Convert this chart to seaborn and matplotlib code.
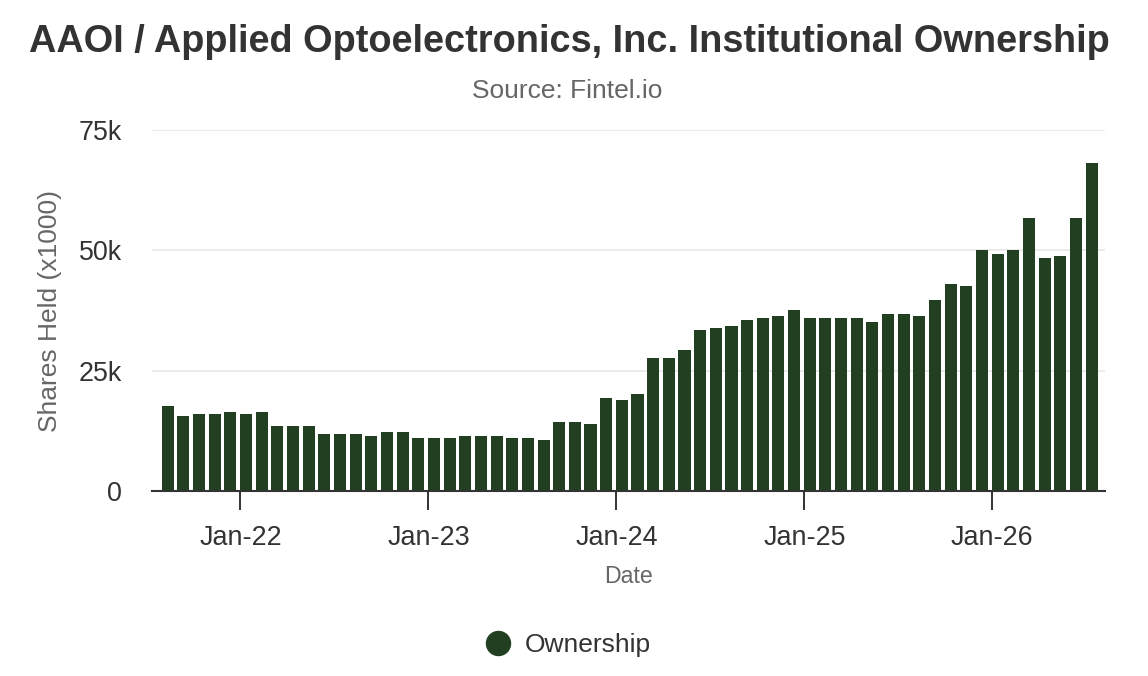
import matplotlib
matplotlib.use("Agg")
import matplotlib.pyplot as plt
from matplotlib.lines import Line2D
import seaborn as sns
import pandas as pd

# ---- data ----
months = pd.date_range("2021-08-01", "2026-07-01", freq="MS").strftime("%Y-%m").tolist()
shares = [
    17.6, 15.6, 16.0, 16.0, 16.4, 16.0, 16.4, 13.5, 13.5, 13.5,
    11.8, 11.8, 11.8, 11.4, 12.2, 12.2, 11.0, 11.0, 11.0, 11.4,
    11.4, 11.4, 11.0, 11.0, 10.6, 14.3, 14.3, 13.9, 19.3, 18.9,
    20.1, 27.6, 27.6, 29.3, 33.5, 33.9, 34.3, 35.6, 36.0, 36.4,
    37.6, 36.0, 36.0, 36.0, 36.0, 35.1, 36.8, 36.8, 36.4, 39.7,
    43.1, 42.6, 50.1, 49.3, 50.1, 56.8, 48.5, 48.9, 56.8, 68.1,
]
shares_k = [v * 1000 for v in shares]
tick_months = ["2022-01", "2023-01", "2024-01", "2025-01", "2026-01"]
tick_labels = ["Jan-22", "Jan-23", "Jan-24", "Jan-25", "Jan-26"]
y_ticks = [0, 25000, 50000, 75000]
y_tick_labels = ["0", "25k", "50k", "75k"]
series_name = "Ownership"

BAR = "#223f22"
DARK = "#333333"
GREY = "#666666"

sns.set_theme(style="white")
plt.rcParams["font.family"] = ["Liberation Sans", "DejaVu Sans"]

W, H = 1148, 676
fig = plt.figure(figsize=(W / 100, H / 100), dpi=100)
ax = fig.add_axes([152 / W, 1 - 491 / H, (1105 - 152) / W, 361 / H])

df = pd.DataFrame({"month": months, "shares": shares_k})
sns.barplot(data=df, x="month", y="shares", color=BAR, saturation=1,
            width=0.77, ax=ax, edgecolor="none")

ax.set_ylim(0, 75000)
ax.set_xlim(-1.0, len(months) - 0.15)
ax.set_yticks(y_ticks)
ax.set_yticklabels(y_tick_labels)
tick_pos = [months.index(m) - 0.35 for m in tick_months]
ax.set_xticks(tick_pos)
ax.set_xticklabels(tick_labels)

ax.yaxis.grid(True, color="#e6e6e6", lw=1.1)
ax.xaxis.grid(False)
ax.set_axisbelow(True)
for s in ["top", "right", "left"]:
    ax.spines[s].set_visible(False)
ax.spines["bottom"].set_color(DARK)
ax.spines["bottom"].set_linewidth(1.5)
ax.spines["bottom"].set_zorder(5)

ax.tick_params(axis="x", bottom=True, length=13.7, width=1.4, color=DARK,
               direction="out", pad=10.5, labelsize=19.4, labelcolor=DARK)
ax.tick_params(axis="y", left=False, length=0, pad=21.6, labelsize=19.4,
               labelcolor=DARK)

ax.set_xlabel("Date", fontsize=16.7, color=GREY)
ax.xaxis.set_label_coords(0.5, -0.205)
ax.set_ylabel("Shares Held (x1000)", fontsize=19, color=GREY)
ax.yaxis.label.set_va("center")
ax.yaxis.set_label_coords(-0.107, 0.5)

fig.text(569 / W, 1 - 52.5 / H,
         "AAOI / Applied Optoelectronics, Inc. Institutional Ownership",
         ha="center", va="baseline", fontsize=27.3, fontweight="bold", color=DARK)
fig.text(567.5 / W, 1 - 97.5 / H, "Source: Fintel.io",
         ha="center", va="baseline", fontsize=19, color=GREY)

handle = Line2D([], [], marker="o", linestyle="none", markersize=17.3,
                markerfacecolor=BAR, markeredgecolor=BAR)
fig.legend([handle], [series_name], loc="center",
           bbox_to_anchor=(568 / W, 1 - 645 / H), frameon=False,
           fontsize=19, handlelength=1.0, handletextpad=0.53, labelcolor=DARK)

fig.savefig("out.png", dpi=100)
